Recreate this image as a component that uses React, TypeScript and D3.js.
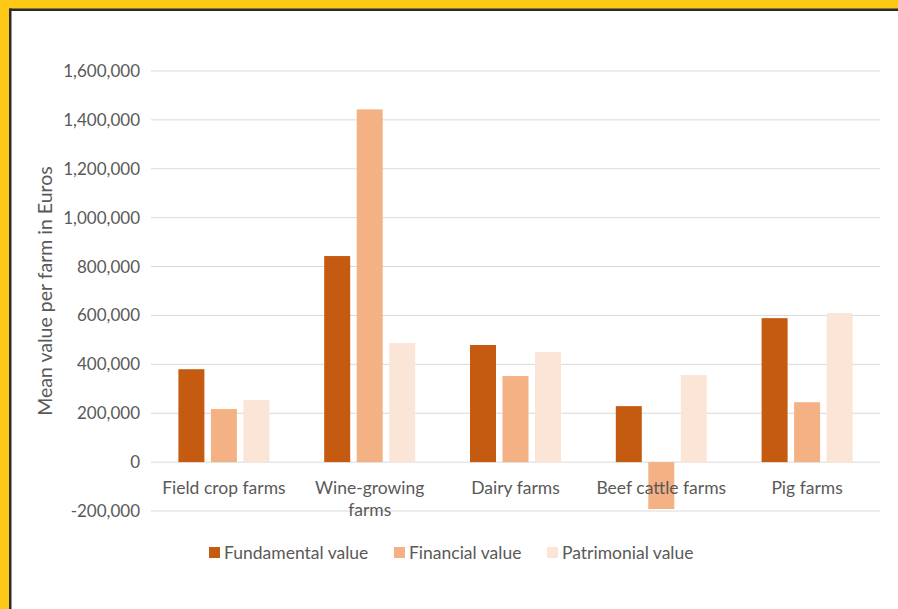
import React from "react";
import * as d3 from "d3";

const categories = ["Field crop farms", "Wine-growing farms", "Dairy farms", "Beef cattle farms", "Pig farms"];
const fundamental = [380000, 843000, 479000, 229000, 589000];
const financial = [217000, 1443000, 352000, -192000, 245000];
const patrimonial = [254000, 487000, 450000, 356000, 610000];
const seriesNames = ["Fundamental value", "Financial value", "Patrimonial value"];
const seriesColors = ["#C55A11", "#F4B183", "#FBE5D6"];
const yTicks = [-200000, 0, 200000, 400000, 600000, 800000, 1000000, 1200000, 1400000, 1600000];

export default function App() {
  const W = 898, H = 609;
  const left = 151, right = 880;
  const y = d3.scaleLinear().domain([-200000, 1600000]).range([511, 71]);
  const x0 = d3.scaleBand().domain(categories).range([left, right]).paddingInner(0).paddingOuter(0);
  const series = [fundamental, financial, patrimonial];
  const barW = 26, step = 32.5;
  const fmt = (v: number) => d3.format(",")(v).replace("\u2212", "-");
  const font = "Lato, 'Open Sans', sans-serif";
  const grey = "#595959";
  const legendX = [209, 394, 547];
  return (
    <svg width={W} height={H} style={{ position: "absolute", left: 0, top: 0 }} fontFamily={font}>
      <rect x={0} y={0} width={W} height={H} fill="#fff" />
      <rect x={0} y={0} width={W} height={9} fill="#FCC715" />
      <rect x={0} y={0} width={9} height={H} fill="#FCC715" />
      <rect x={9} y={8.5} width={W - 9} height={2.5} fill="#2b2b2b" />
      <rect x={9} y={8.5} width={2.5} height={H} fill="#2b2b2b" />
      {yTicks.map((t) => (
        <g key={t}>
          <line x1={left} x2={right} y1={y(t)} y2={y(t)} stroke="#D9D9D9" strokeWidth={1} />
          <text x={140} y={y(t)} dy="0.35em" textAnchor="end" fontSize={17} fill={grey}>{fmt(t)}</text>
        </g>
      ))}
      {categories.map((c, i) => {
        const cx = (x0(c) as number) + x0.bandwidth() / 2;
        return (
          <g key={c}>
            {series.map((s, j) => {
              const v = s[i];
              const bx = cx + (j - 1) * step - barW / 2;
              return (
                <rect key={j} x={bx} width={barW} y={Math.min(y(v), y(0))} height={Math.abs(y(v) - y(0))} fill={seriesColors[j]} />
              );
            })}
          </g>
        );
      })}
      {categories.map((c) => {
        const cx = (x0(c) as number) + x0.bandwidth() / 2;
        const lines = c === "Wine-growing farms" ? ["Wine-growing", "farms"] : [c];
        return (
          <text key={c} x={cx} y={494} textAnchor="middle" fontSize={17.5} fill={grey}>
            {lines.map((l, k) => (
              <tspan key={k} x={cx} dy={k === 0 ? 0 : 22}>{l}</tspan>
            ))}
          </text>
        );
      })}
      <text transform={`translate(52,${y(700000)}) rotate(-90)`} textAnchor="middle" fontSize={19.5} fill={grey}>
        Mean value per farm in Euros
      </text>
      {seriesNames.map((n, j) => (
        <g key={n}>
          <rect x={legendX[j]} y={547} width={11} height={11} fill={seriesColors[j]} />
          <text x={legendX[j] + 15} y={553} dy="0.35em" fontSize={17.5} fill={grey}>{n}</text>
        </g>
      ))}
    </svg>
  );
}
